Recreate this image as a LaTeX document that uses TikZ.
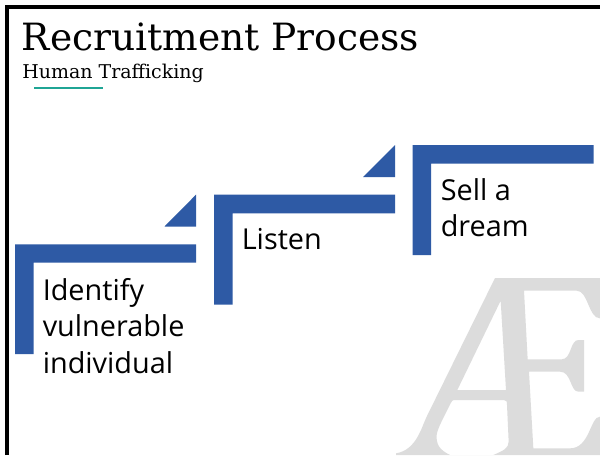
\documentclass[tikz,border=0pt]{standalone}
\usepackage{fontspec}
\setmainfont{Open Sans}
\newfontfamily\titlefont{DejaVu Serif}
\usetikzlibrary{positioning}
\definecolor{stairblue}{HTML}{2E5AA5}
\definecolor{tealline}{HTML}{1FA595}
\definecolor{watermark}{HTML}{DCDCDC}
\tikzset{
  stair/.style={fill=stairblue,draw=none},
  steptext/.style={anchor=north west,inner sep=0pt,align=left,font=\fontsize{20.5}{26}\selectfont},
}

\begin{document}
\begin{tikzpicture}[x=0.025cm,y=-0.025cm]
\useasboundingbox (0,0) rectangle (600,455);
\fill [white] (0,0) rectangle (600,455);
% watermark
\begin{scope}[shift={(380,260)},x=0.008333cm,y=-0.008333cm]
\fill [watermark,even odd rule] (345,54) -- (660,54) -- (660,585) -- (48,585) -- (48,580) .. controls (110,570) and (125,500) .. (140,470) -- cycle
  (362,122) -- (378,390) -- (232,390) -- cycle
  (222,420) -- (372,420) .. controls (380,420) and (381,425) .. (381,435) -- (386,545) .. controls (386,565) and (370,572) .. (340,585) -- (210,585) .. controls (180,570) and (168,555) .. (170,525) .. controls (172,505) and (195,465) .. (212,430) .. controls (215,423) and (218,420) .. (222,420) -- cycle
  (432,92) -- (590,92) .. controls (625,92) and (625,175) .. (660,175) -- (660,470) .. controls (630,470) and (630,565) .. (570,565) -- (460,565) -- (447,335) -- (540,335) .. controls (575,335) and (570,395) .. (595,395) -- (612,395) -- (612,240) -- (595,240) .. controls (570,240) and (575,298) .. (545,298) -- (443,298) -- cycle;
\end{scope}
% frame
\draw [line width=2.2pt] (7,455) -- (7,7) -- (600,7);
% title
\node [anchor=base west,inner sep=0pt,font=\titlefont\fontsize{26.7}{30}\selectfont] (title) at (21.5,50) {Recruitment Process};
\node [anchor=base west,inner sep=0pt,font=\titlefont\fontsize{13.5}{16}\selectfont] (subtitle) at (22,78) {Human Trafficking};
\draw [tealline,line width=1.1pt] (34,88) -- (103,88);
% stairs
\fill [stair] (15,244.3) -- (196,244.3) -- (196,262.7) -- (33.5,262.7) -- (33.5,354) -- (15,354) -- cycle;
\fill [stair] (164.5,226.5) -- (196,194.7) -- (196,226.5) -- cycle;
\fill [stair] (214,194.7) -- (395,194.7) -- (395,213.3) -- (232.5,213.3) -- (232.5,304.7) -- (214,304.7) -- cycle;
\fill [stair] (363,177) -- (395,145) -- (395,177) -- cycle;
\fill [stair] (412.7,145) -- (593.5,145) -- (593.5,163.5) -- (431,163.5) -- (431,255) -- (412.7,255) -- cycle;
% labels
\node [steptext] (identify) at (42.5,278) {Identify\\vulnerable\\individual};
\node [steptext] (listen) at (241.5,228) {Listen};
\node [steptext] (sell) at (440.5,178) {Sell a\\dream};
\end{tikzpicture}
\end{document}
